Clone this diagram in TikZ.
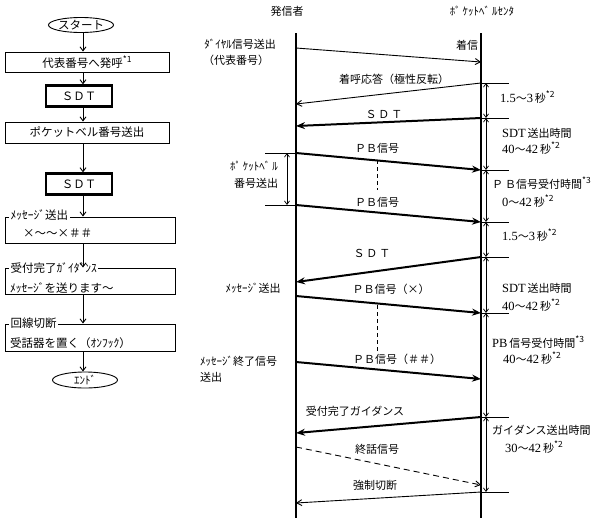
\documentclass[tikz,border=0pt]{standalone}
\usepackage{fontspec}
\setmainfont{Noto Sans CJK JP}
\newfontfamily\srf{Liberation Serif}
\usetikzlibrary{arrows.meta,shapes.geometric}
\newcommand{\sx}[1]{\raisebox{4.5pt}{\fontsize{8.5}{9}\selectfont #1}}
\newcommand{\sr}{\srf\fontsize{12.5}{14}\selectfont}
\begin{document}
\begin{tikzpicture}[x=1pt,y=-1pt,
  every node/.style={font=\fontsize{11}{13}\selectfont, inner sep=0pt},
  fbox/.style={draw, line width=0.9pt, minimum width=164pt, minimum height=20pt},
  obox/.style={draw, line width=0.9pt, minimum width=170pt},
  sdtbox/.style={draw, line width=2.2pt, minimum width=66pt, minimum height=21pt},
  term/.style={draw, ellipse, line width=0.9pt, minimum width=65pt, minimum height=15pt},
  cover/.style={anchor=west, fill=white, inner xsep=1.5pt, inner ysep=0.5pt},
  flow/.style={line width=0.9pt, -{Straight Barb[length=4pt,width=6pt]}},
  life/.style={line width=1.1pt},
  thinar/.style={line width=0.9pt, -{Straight Barb[length=5pt,width=6pt]}},
  thickar/.style={line width=2pt, -{Stealth[length=9pt,width=7pt,inset=3pt]}},
  dimar/.style={line width=0.7pt, {Straight Barb[length=3.5pt,width=5pt]}-{Straight Barb[length=3.5pt,width=5pt]}},
  ext/.style={line width=0.9pt},
  vdash/.style={line width=0.9pt, dash pattern=on 4pt off 3pt},
  lw/.style={anchor=west},
  ff/.style={font=\fontsize{11.5}{13}\selectfont},
]
\useasboundingbox (0,0) rectangle (600,523);

% ---------------- flowchart ----------------
\coordinate (ax) at (83,0);
\node[term, ff] (start) at (81,25) {スタート};
\node[fbox, ff] (b1) at (87,62) {代表番号へ発呼\sx{*1}};
\node[sdtbox, ff] (s1) at (79,96) {ＳＤＴ};
\node[fbox, ff, minimum height=21pt] (b3) at (87,132.5) {ポケットベル番号送出};
\node[sdtbox, ff] (s2) at (79,184) {ＳＤＴ};
\node[obox, minimum height=26pt] (b5) at (90,230) {};
\node[cover, ff] (t5a) at (9,215) {ﾒｯｾｰｼﾞ送出\hspace{6pt}};
\node[lw, ff] (t5b) at (23,233) {×～～×＃＃};
\node[obox, minimum height=26pt] (b6) at (90,281) {};
\node[cover, ff] (t6a) at (9,268) {受付完了ｶﾞｲﾀﾞﾝｽ\hspace{6pt}};
\node[lw, ff] (t6b) at (10,288) {ﾒｯｾｰｼﾞを送ります～};
\node[obox, minimum height=27pt] (b7) at (90,337.5) {};
\node[cover, ff] (t7a) at (9,323) {回線切断\hspace{17pt}};
\node[lw, ff] (t7b) at (10,343) {受話器を置く（ｵﾝﾌｯｸ）};
\node[term, minimum height=16pt] (end) at (85,380) {ｴﾝﾄﾞ};

\draw[flow] (start.south -| ax) -- (b1.north -| ax);
\draw[flow] (b1.south -| ax) -- (s1.north -| ax);
\draw[flow] (s1.south -| ax) -- (b3.north -| ax);
\draw[flow] (b3.south -| ax) -- (s2.north -| ax);
\draw[flow] (s2.south -| ax) -- (b5.north -| ax);
\draw[flow] (b5.south -| ax) -- (b6.north -| ax);
\draw[flow] (b6.south -| ax) -- (b7.north -| ax);
\draw[flow] (b7.south -| ax) -- (end.north -| ax);

% ---------------- sequence ----------------
\node (hA) at (287,11) {発信者};
\node (hB) at (482,11) {ﾎﾟ\,ｹｯﾄﾍﾞ\,ﾙｾﾝﾀ};
\coordinate (A0) at (296,33); \coordinate (A1) at (296,518);
\coordinate (B0) at (481,33); \coordinate (B1) at (481,518);
\draw[life] (A0) -- (A1);
\draw[life] (B0) -- (B1);

% message end points
\coordinate (a1) at (296,48);  \coordinate (b1e) at (481,62);
\coordinate (b2) at (481,83);  \coordinate (a2) at (296,104);
\coordinate (b3s) at (481,118); \coordinate (a3) at (296,126);
\coordinate (a4) at (296,153); \coordinate (b4) at (481,170);
\coordinate (a5) at (296,205); \coordinate (b5e) at (481,222);
\coordinate (b6s) at (481,257); \coordinate (a6) at (296,282);
\coordinate (a7) at (296,296); \coordinate (b7e) at (481,313);
\coordinate (a8) at (296,362); \coordinate (b8) at (481,379);
\coordinate (b9) at (481,417); \coordinate (a9) at (296,433);
\coordinate (a10) at (296,447); \coordinate (b10) at (481,485);
\coordinate (b11) at (481,492); \coordinate (a11) at (296,503);

\draw[thinar] (a1) -- (b1e);
\draw[thinar] (b2) -- (a2);
\draw[thickar] (b3s) -- (a3);
\draw[thickar] (a4) -- (b4);
\draw[thickar] (a5) -- (b5e);
\draw[thickar] (b6s) -- (a6);
\draw[thickar] (a7) -- (b7e);
\draw[thickar] (a8) -- (b8);
\draw[thickar] (b9) -- (a9);
\draw[thinar, dash pattern=on 6pt off 4pt] (a10) -- (b10);
\draw[thinar] (b11) -- (a11);

% dashed continuation marks
\coordinate (d1) at (377,160); \coordinate (d2) at (377,190);
\coordinate (d3) at (377,305); \coordinate (d4) at (377,353);
\draw[vdash] (d1) -- (d2);
\draw[vdash] (d3) -- (d4);

% message labels
\node (l1a) at (240,44) {ﾀﾞｲﾔﾙ信号送出};
\node (l1b) at (236,60) {（代表番号）};
\node (l1c) at (467,45) {着信};
\node (l2) at (394,79) {着呼応答（極性反転）};
\node (l3) at (384,114) {Ｓ\,Ｄ\,Ｔ};
\node (l4) at (377,148) {ＰＢ信号};
\node (l5) at (377,202) {ＰＢ信号};
\node (l6) at (372,253) {Ｓ\,Ｄ\,Ｔ};
\node (l6b) at (253,288) {ﾒｯｾｰｼﾞ送出};
\node (l7) at (391,289) {ＰＢ信号（×）};
\node (l8) at (397,359) {ＰＢ信号（＃＃）};
\node[lw] (l8a) at (200,361) {ﾒｯｾｰｼﾞ終了信号};
\node[lw] (l8b) at (200,377) {送出};
\node (l9) at (355,411) {受付完了ガイダンス};
\node (l10) at (377,449) {終話信号};
\node (l11) at (375,485) {強制切断};

% left bracket
\coordinate (k1) at (265,153); \coordinate (k2) at (265,205);
\coordinate (k3) at (287,153); \coordinate (k4) at (287,205);
\draw[ext] (k1) -- (a4);
\draw[ext] (k2) -- (a5);
\draw[dimar] (k3) -- (k4);
\node (kb1) at (254,166) {ﾎﾟ\,ｹｯﾄﾍﾞ\,ﾙ};
\node (kb2) at (256,183) {番号送出};

% right timing dimensions
\foreach \y/\n in {83/1,118/2,170/3,222/4,257/5,313/6,417/7,492/8}{
  \coordinate (e\n) at (481,\y);
  \coordinate (f\n) at (509,\y);
  \coordinate (g\n) at (486,\y);
  \draw[ext] (e\n) -- (f\n);
}
\draw[dimar] (g1) -- (g2);
\draw[dimar] (g2) -- (g3);
\draw[dimar] (g3) -- (g4);
\draw[dimar] (g4) -- (g5);
\draw[dimar] (g5) -- (g6);
\draw[dimar] (g6) -- (g7);
\draw[dimar] (g7) -- (g8);

\node[lw] (r1) at (500,97) {{\sr 1.5}～{\sr 3}\,秒\sx{*2}};
\node[lw] (r2a) at (502,133) {{\sr SDT}\,送出時間};
\node[lw] (r2b) at (502,148) {{\sr 40}～{\sr 42}\,秒\sx{*2}};
\node[lw] (r3a) at (492,183) {Ｐ\,Ｂ信号受付時間\sx{*3}};
\node[lw] (r3b) at (502,201) {{\sr 0}～{\sr 42}\,秒\sx{*2}};
\node[lw] (r4) at (502,235) {{\sr 1.5}～{\sr 3}\,秒\sx{*2}};
\node[lw] (r5a) at (502,288) {{\sr SDT}\,送出時間};
\node[lw] (r5b) at (502,305) {{\sr 40}～{\sr 42}\,秒\sx{*2}};
\node[lw] (r6a) at (492,342) {{\sr PB}\,信号受付時間\sx{*3}};
\node[lw] (r6b) at (503,358) {{\sr 40}～{\sr 42}\,秒\sx{*2}};
\node[lw] (r7a) at (492,430) {ガイダンス送出時間};
\node[lw] (r7b) at (505,447) {{\sr 30}～{\sr 42}\,秒\sx{*2}};
\end{tikzpicture}
\end{document}
